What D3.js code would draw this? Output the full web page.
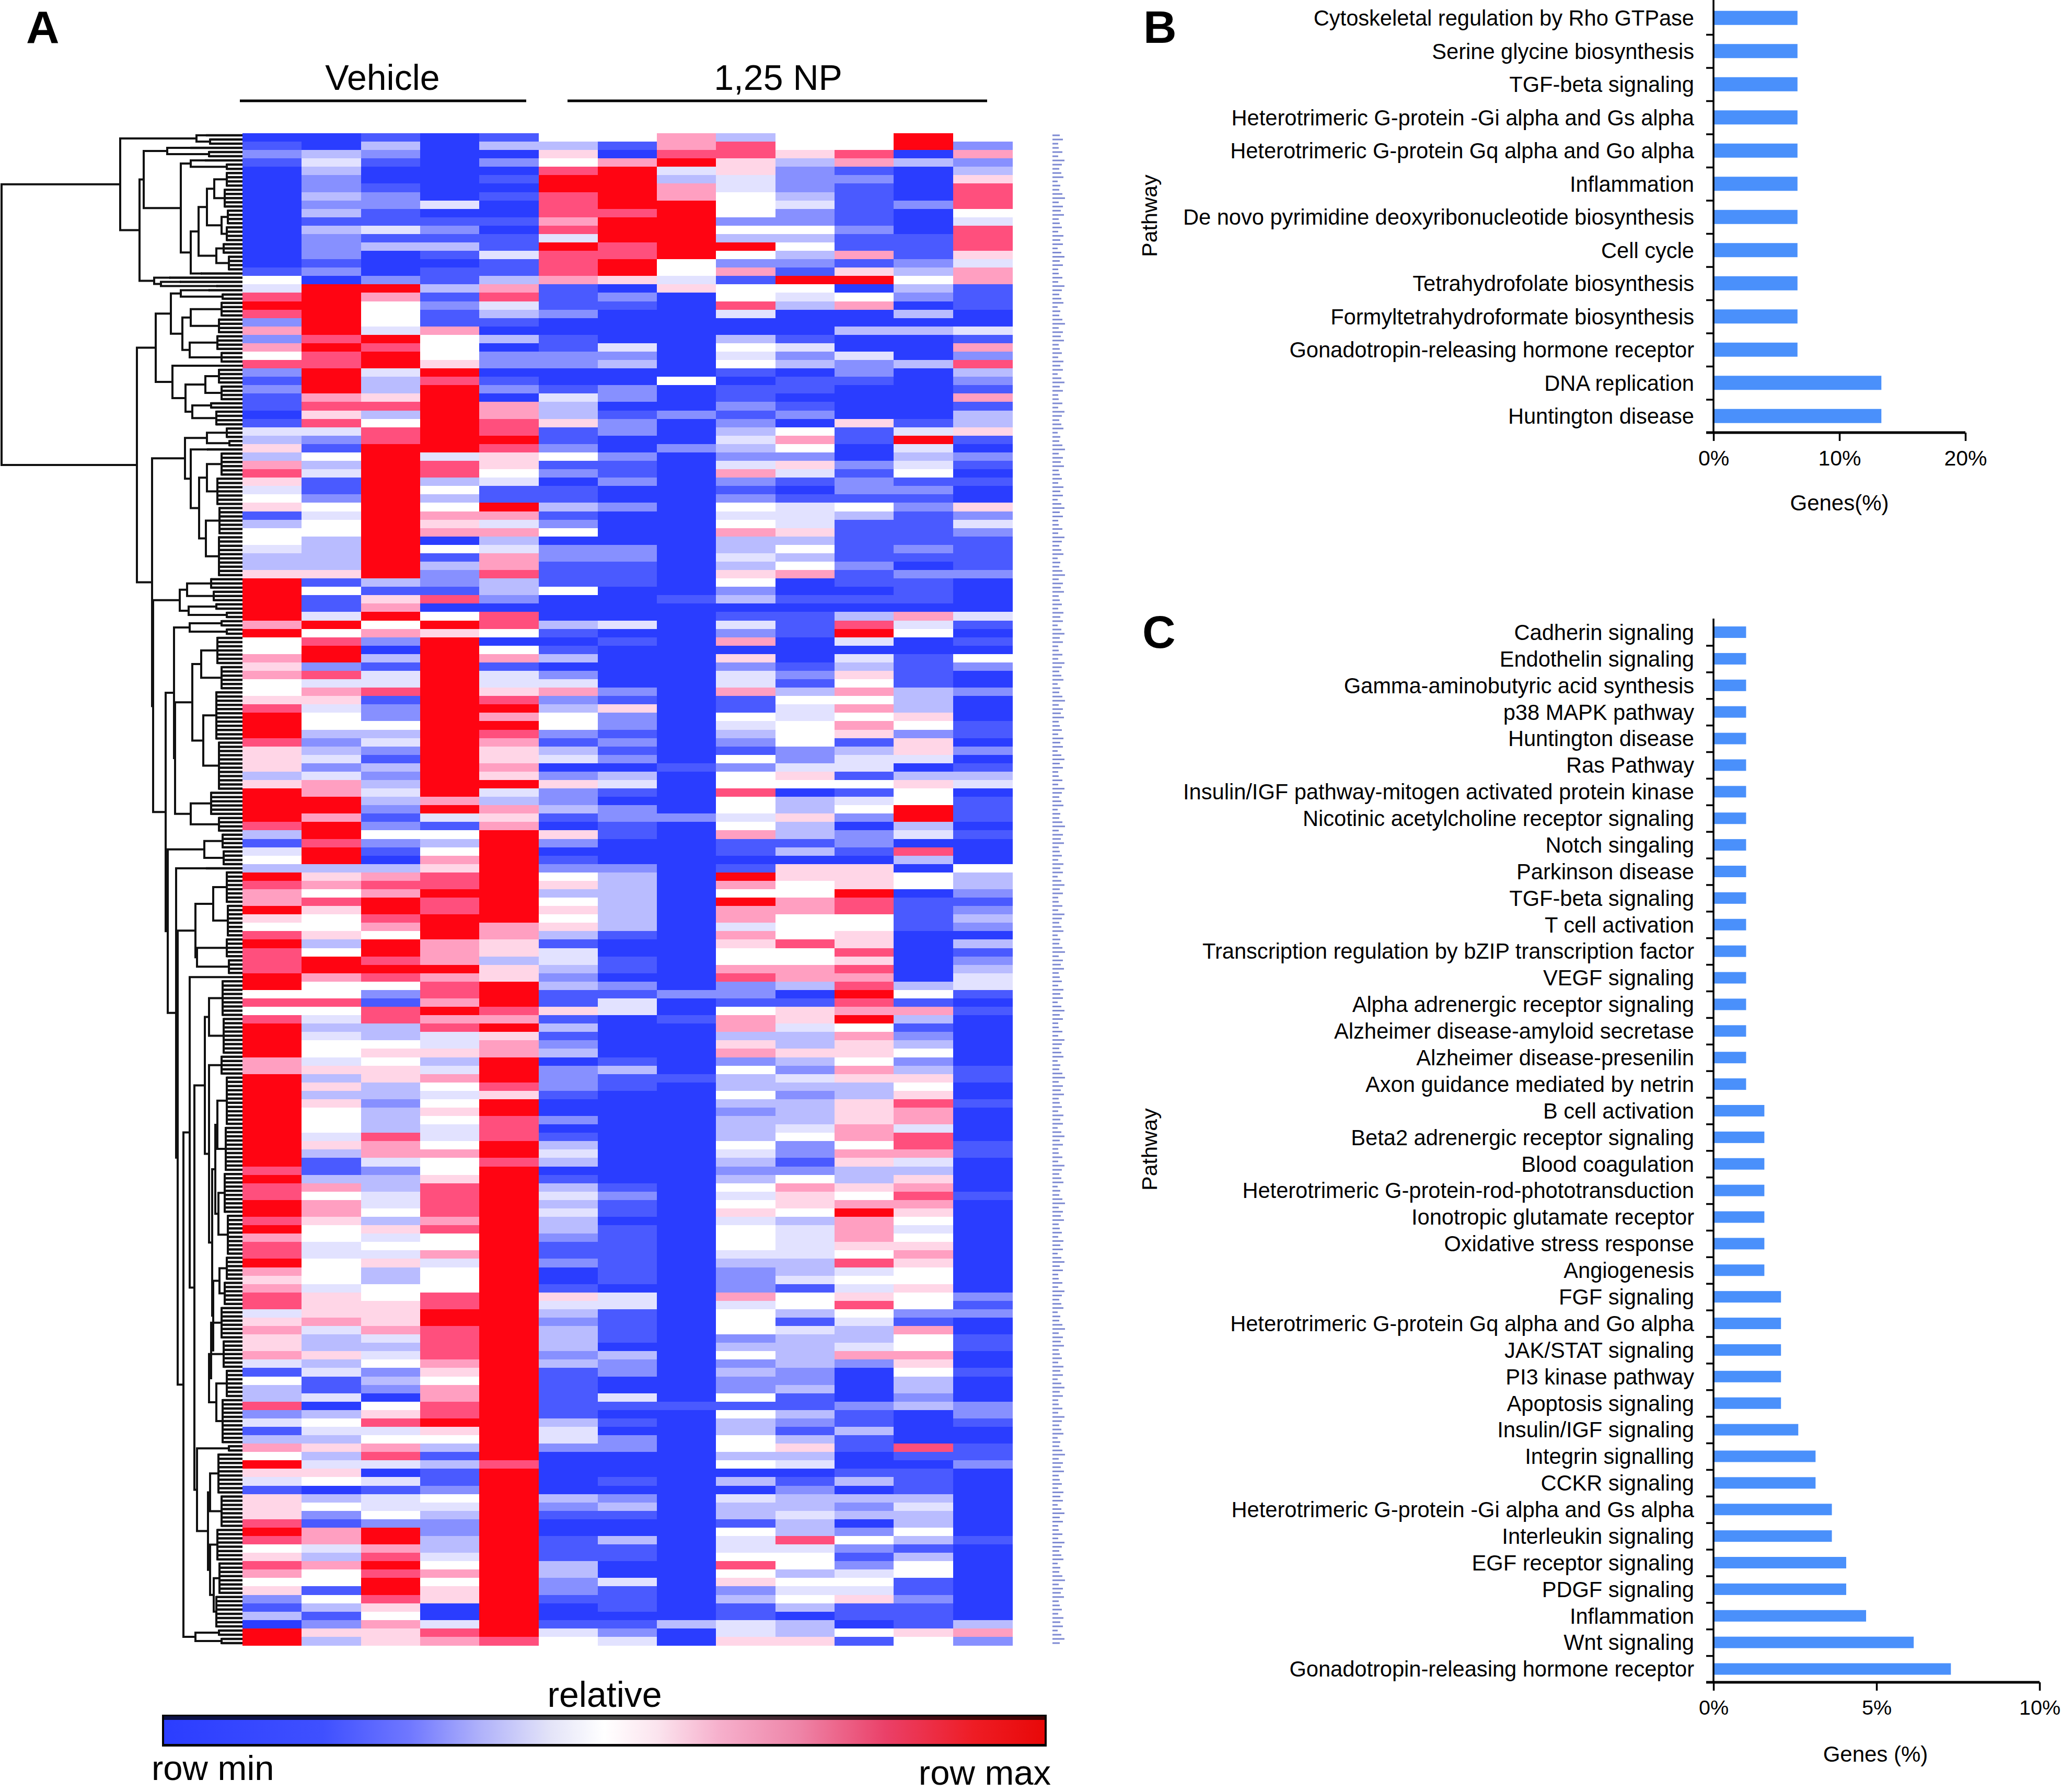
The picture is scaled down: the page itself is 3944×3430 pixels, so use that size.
<!DOCTYPE html>
<html><head><meta charset="utf-8">
<script src="https://cdnjs.cloudflare.com/ajax/libs/d3/7.8.5/d3.min.js"></script>
<style>html,body{margin:0;padding:0;background:#fff}svg{display:block}text{font-family:"Liberation Sans",Arial,sans-serif;fill:#000}</style>
</head><body><svg id="c" width="3944" height="3430"></svg>
<script>
// ---- panel A heatmap: one string of colour levels (0 = row min ... 9 = row max) per column, top to bottom
const col01="012100 000000 000015 489827 275821 211014 363786 456135 543369 999979 557675 568999 866636 999983 145398 779658 988899 585899 997799 999999 999898 899897 889767 884676 674153 382413 759641 666898 568756 213099";
const col02="003432 232313 222120 999999 898899 978684 215341 125455 333361 511495 899284 764553 234247 799799 899367 586556 359975 585434 554636 365554 631137 577655 445554 666743 363411 403543 634650 352177 437551 531263";
const col03="132100 122114 130002 975554 989943 368358 899999 999999 999993 167957 203144 812253 421323 432125 210378 799875 998985 218833 565663 323338 774233 445364 546335 566674 345232 056845 784041 445299 789899 865766";
const col04="000000 004012 131011 312117 555698 999999 994883 535767 051322 180596 999999 999999 999999 979415 357688 988999 777978 879784 463475 456544 575568 888785 574555 889988 887657 788965 313112 543223 345756 600487";
const col05="130201 010010 114113 784310 302201 207788 986654 119747 347783 320885 057144 689798 766769 437679 999999 999977 663669 998796 779998 699888 998999 999999 999999 999999 999999 999999 998999 999999 999999 999998";
const col06="536589 988878 498887 111200 112200 143361 125120 113125 022111 500031 013024 723552 134026 223106 201256 356563 144323 116131 230222 100201 343013 434332 112001 643233 323111 111344 200000 321001 113322 100145";
const col07="510799 999899 988996 021000 042300 220122 002112 002000 022111 000040 100000 216221 212034 102211 000233 333331 001102 144000 001311 000000 000001 211011 111110 441111 032200 410102 200010 231003 110041 110124";
const col08="778943 779999 999554 600000 000005 000200 020000 000000 000000 010000 000000 000000 000100 000200 000000 000000 000000 200100 000010 000000 000000 000000 000000 000000 000000 010000 000000 000000 000000 000300";
const col09="388664 455525 395271 558400 354510 112123 432472 125457 334365 230142 706244 711543 215255 855457 110197 597747 655782 215773 672533 532333 543235 456455 543222 745552 352322 515335 535030 433154 458562 311446";
const col10="556322 234225 353219 543000 142301 101205 752641 014446 353570 010111 000121 354455 522465 033633 130665 577555 855773 016643 363243 233345 221257 665344 443341 553143 333223 113213 634012 334338 455354 530336";
const col11="558712 111112 117169 057003 004221 000061 100212 215311 111211 010389 404365 757576 134415 145202 210666 988556 686878 987957 665763 366677 576336 579777 658454 685433 472000 021131 100130 323025 212454 611051";
const col12="990300 002000 111235 320303 000300 000014 943451 212111 121021 110745 001111 333652 664036 559934 083055 011110 000003 517312 352365 687748 874367 876545 676556 552175 576533 230000 810111 343353 135511 211165";
const col13="527236 888548 886477 111004 172832 171336 102101 006242 111120 000410 105200 200011 020134 011101 000533 212320 312344 101000 000110 010000 110000 100000 000000 212001 100100 022100 112000 000001 000000 000372";
const heatColumns=[col01,col02,col03,col04,col05,col06,col07,col08,col09,col10,col11,col12,col13];
const levelColors=["#2a3dff","#4a5aff","#8790ff","#b9bcff","#e2e2ff","#ffffff","#ffd6e7","#ff9fc1","#ff4f7d","#ff0412"];
const groupLabels=["Vehicle","1,25 NP"];

// ---- panel A dendrogram: [merge distance, child, child] ; a leaf is [merge distance, number of rows]
const dendro=[461,
 [234,
  [88,[70,1],[62,2]],
  [197,
   [189,
    [144,[100,1],[64,2]],
    [118,
     [99,[72,1],[30,2]],
     [99,
      [84,
       [68,[54,[30,4],[34,5]],[40,[28,4],[30,4]]],
       [50,[36,3],[26,4]]],
      [80,1]]]],
   [169,[140,1],[156,[120,1],[50,1]]]]],
 [202,
  [166,
   [137,
    [118,[65,1],[38,2]],
    [115,[99,[40,4],[45,4]],[101,[48,4],[40,3]]]],
   [134,
    [1,1],
    [109,[71,[45,4],[40,4]],[96,[60,2],[50,4]]]]],
  [173,
   [110,
    [68,[30,3],[25,2]],
    [99,
     [68,1],
     [83,[68,[40,6],[48,7]],[70,[44,7],[45,10]]]]],
   [171,
    [120,[106,[60,3],[55,3]],[103,[50,2],[30,2]]],
    [147,
     [131,
      [101,[40,2],[30,2]],
      [129,
       [96,[79,[48,7],[40,6]],[75,[50,12],[45,12]]],
       [99,[60,6],[45,4]]]],
     [143,
      [73,[38,4],[36,4]],
      [127,
       [70,1],
       [124,
        [90,[56,[30,8],[28,8]],[87,[30,5],[26,4]]],
        [113,
         [101,
          [1,1],
          [92,
           [72,
            [64,[38,9],[36,9]],
            [64,
             [40,5],
             [58,
              [52,[48,[30,12],[32,11]],[46,[34,10],[28,10]]],
              [56,
               [44,[30,6],[34,6]],
               [60,[40,8],[64,[36,7],[50,[30,7],[38,11]]]]]]]],
           [87,
            [26,2],
            [66,
             [62,[46,10],[40,8]],
             [62,[48,8],[55,[44,8],[50,8]]]]]]],
         [90,[45,2],[40,2]]]]]]]]]]];
const geneMarkLengths=[14,20,11,12,19,11,23,18,13,17,21,10,15,13,19,24,12,20,16,22,12,14,18,11,21,15,20,10,17,23];

// ---- panel B
const pathwaysB=["Cytoskeletal regulation by Rho GTPase","Serine glycine biosynthesis","TGF-beta signaling","Heterotrimeric G-protein -Gi alpha and Gs alpha","Heterotrimeric G-protein Gq alpha and Go alpha","Inflammation","De novo pyrimidine deoxyribonucleotide biosynthesis","Cell cycle","Tetrahydrofolate biosynthesis","Formyltetrahydroformate biosynthesis","Gonadotropin-releasing hormone receptor","DNA replication","Huntington disease"];
const genesB=[6.67,6.67,6.67,6.67,6.67,6.67,6.67,6.67,6.67,6.67,6.67,13.33,13.33];
const ticksB=[0,10,20];
// ---- panel C
const pathwaysC=["Cadherin signaling","Endothelin signaling","Gamma-aminobutyric acid synthesis","p38 MAPK pathway","Huntington disease","Ras Pathway","Insulin/IGF pathway-mitogen activated protein kinase","Nicotinic acetylcholine receptor signaling","Notch singaling","Parkinson disease","TGF-beta signaling","T cell activation","Transcription regulation by bZIP transcription factor","VEGF signaling","Alpha adrenergic receptor signaling","Alzheimer disease-amyloid secretase","Alzheimer disease-presenilin","Axon guidance mediated by netrin","B cell activation","Beta2 adrenergic receptor signaling","Blood coagulation","Heterotrimeric G-protein-rod-phototransduction","Ionotropic glutamate receptor","Oxidative stress response","Angiogenesis","FGF signaling","Heterotrimeric G-protein Gq alpha and Go alpha","JAK/STAT signaling","PI3 kinase pathway","Apoptosis signaling","Insulin/IGF signaling","Integrin signalling","CCKR signaling","Heterotrimeric G-protein -Gi alpha and Gs alpha","Interleukin signaling","EGF receptor signaling","PDGF signaling","Inflammation","Wnt signaling","Gonadotropin-releasing hormone receptor"];
const genesC=[1.0,1.0,1.0,1.0,1.0,1.0,1.0,1.0,1.0,1.0,1.0,1.0,1.0,1.0,1.0,1.0,1.0,1.0,1.56,1.56,1.56,1.56,1.56,1.56,1.56,2.07,2.07,2.07,2.07,2.07,2.6,3.13,3.13,3.63,3.63,4.07,4.07,4.68,6.14,7.28];
const ticksC=[0,5,10];
// ---- colour key
const keyStops=[[0,"#2b3dff"],[0.18,"#3f50ff"],[0.28,"#7078ff"],[0.36,"#b0b2fa"],[0.44,"#e4e4f8"],[0.5,"#ffffff"],[0.56,"#fbe4ee"],[0.63,"#f6b0cc"],[0.72,"#ee85a8"],[0.82,"#ea4068"],[0.92,"#ee1c24"],[1,"#e80808"]];

const svg=d3.select("#c");
const BAR="#4a90fb";
const heatTop=255,heatBottom=3149,heatLeft=464,heatRight=1937;

// heatmap
const parsed=heatColumns.map(s=>s.replace(/\s/g,"").split("").map(Number));
const nRows=parsed[0].length;
const xH=d3.scaleBand().domain(d3.range(heatColumns.length)).range([heatLeft,heatRight]);
const yH=d3.scaleBand().domain(d3.range(nRows)).range([heatTop,heatBottom]);
const cScale=d3.scaleLinear().domain(d3.range(10)).range(levelColors);
const heat=svg.append("g").attr("shape-rendering","crispEdges");
parsed.forEach((col,ci)=>{
  heat.selectAll(null).data(col).join("rect")
    .attr("x",xH(ci)).attr("width",xH.bandwidth()+.5)
    .attr("y",(d,i)=>yH(i)).attr("height",yH.bandwidth()+.5)
    .attr("fill",d=>cScale(d));
});

// dendrogram
const isLeaf=n=>typeof n[1]==="number";
const rootD=d3.hierarchy(dendro,n=>isLeaf(n)?null:n.slice(1));
let totalUnits=0;rootD.leaves().forEach(l=>{l.start=totalUnits;totalUnits+=l.data[1];});
const xD=d3.scaleLinear().domain([0,461]).range([heatLeft,3]);
const yD=d3.scaleLinear().domain([0,totalUnits]).range([heatTop,heatBottom]);
rootD.eachAfter(n=>{
  if(n.children){n.y0=n.children[0].y0;n.yp=(n.children[0].yp+n.children[n.children.length-1].yp)/2;}
  else{n.yp=yD(n.start+n.data[1]/2);}
});
let dPath="",dComb="";
rootD.each(n=>{
  const x=xD(n.data[0]);
  if(n.parent){dPath+=`M${xD(n.parent.data[0])},${n.yp}H${x}`;}
  if(n.children){
    dPath+=`M${x},${n.children[0].yp}V${n.children[n.children.length-1].yp}`;
  }else{
    const cnt=n.data[1];
    const ys=d3.range(cnt).map(i=>yD(n.start+i+.5));
    if(cnt>1)dPath+=`M${x},${ys[0]}V${ys[ys.length-1]}`;
    ys.forEach(y=>{dComb+=`M${x},${y}H${heatLeft}`;});
  }
});
svg.append("path").attr("d",dPath).attr("fill","none").attr("stroke","#111").attr("stroke-width",4).attr("stroke-linecap","square");
svg.append("path").attr("d",dComb).attr("fill","none").attr("stroke","#111").attr("stroke-width",4.5);

// gene label column (illegible at this size)
const markY=d3.scaleLinear().domain([0,totalUnits]).range([heatTop,heatBottom]);
svg.append("g").attr("opacity",.8).selectAll("rect").data(d3.range(totalUnits)).join("rect")
  .attr("x",2014).attr("y",d=>markY(d+.5)-1.5).attr("height",3)
  .attr("width",d=>geneMarkLengths[d%geneMarkLengths.length])
  .attr("fill","#5d6cc8");

// headers
const groupPos=[[459,1007],[1086,1889]];
groupLabels.forEach((t,i)=>{
  const [a,b]=groupPos[i];
  svg.append("text").attr("x",i?1489:732).attr("y",172).attr("text-anchor","middle").attr("font-size",68).text(t);
  svg.append("line").attr("x1",a).attr("x2",b).attr("y1",193).attr("y2",193).attr("stroke","#000").attr("stroke-width",5);
});

// panel letters
[["A",50,82],["B",2188,82],["C",2186,1240]].forEach(([t,x,y])=>{
  svg.append("text").attr("x",x).attr("y",y).attr("font-size",88).attr("font-weight","bold").text(t);
});

// colour key
const defs=svg.append("defs");
const grad=defs.append("linearGradient").attr("id","key");
grad.selectAll("stop").data(keyStops).join("stop").attr("offset",d=>d[0]).attr("stop-color",d=>d[1]);
svg.append("rect").attr("x",310).attr("y",3282).attr("width",1693).attr("height",61).attr("fill","#050505");
svg.append("rect").attr("x",314).attr("y",3285).attr("width",1685).attr("height",53).attr("fill","url(#key)");
svg.append("rect").attr("x",314).attr("y",3285).attr("width",1685).attr("height",7).attr("fill","#000").attr("opacity",.72);
svg.append("text").attr("x",1157).attr("y",3267).attr("text-anchor","middle").attr("font-size",68).text("relative");
svg.append("text").attr("x",290).attr("y",3407).attr("font-size",67).text("row min");
svg.append("text").attr("x",2011).attr("y",3416).attr("text-anchor","end").attr("font-size",67).text("row max");

// bar charts
function barChart(cats,vals,ticks,cfg){
  const g=svg.append("g");
  const y=d3.scaleBand().domain(cats).range([cfg.top,cfg.bottom]);
  const x=d3.scaleLinear().domain([0,ticks[ticks.length-1]]).range([3279,cfg.xMax]);
  g.selectAll("rect").data(cats).join("rect")
    .attr("x",x(0)).attr("y",d=>y(d)+y.bandwidth()/2-cfg.barH/2)
    .attr("height",cfg.barH).attr("width",(d,i)=>x(vals[i])-x(0)).attr("fill",BAR);
  // category labels
  const yAxis=d3.axisLeft(y).tickSize(0).tickPadding(37);
  const ga=g.append("g").attr("transform","translate(3279,1.5)").call(yAxis);
  ga.select(".domain").remove();
  ga.selectAll("text").attr("font-size",cfg.fs).attr("font-family",'"Liberation Sans"').attr("fill","#000").attr("dy","0.32em");
  // boundary ticks
  const idx=d3.scaleLinear().domain([0,cats.length]).range([cfg.top,cfg.bottom]);
  const yb=d3.axisLeft(idx).tickValues(d3.range(cfg.firstTick,cats.length)).tickFormat("").tickSize(14).tickSizeOuter(0);
  const gb=g.append("g").attr("transform","translate(3279,0)").call(yb);
  gb.select(".domain").attr("d",`M0,${cfg.axisTop}V${cfg.bottom}`);
  gb.selectAll("line,path").attr("stroke","#000").attr("stroke-width",cfg.yw);
  // x axis
  const xa=d3.axisBottom(x).tickValues(ticks).tickFormat(d=>d+"%").tickSize(16).tickSizeOuter(0).tickPadding(18);
  const gx=g.append("g").attr("transform",`translate(0,${cfg.bottom})`).call(xa);
  gx.select(".domain").attr("stroke","#000").attr("stroke-width",5).attr("d",`M${3279-14},0H${cfg.xMax}`);
  gx.selectAll("line").attr("stroke","#000").attr("stroke-width",3.5);
  gx.selectAll("text").attr("font-size",cfg.tickFs).attr("font-family",'"Liberation Sans"').attr("fill","#000");
  svg.append("text").attr("x",cfg.titleX).attr("y",cfg.titleY).attr("text-anchor","middle").attr("font-size",42).text(cfg.title);
  svg.append("text").attr("transform",`translate(2214,${cfg.pathY}) rotate(-90)`).attr("text-anchor","middle").attr("font-size",41).text("Pathway");
}
barChart(pathwaysB,genesB,ticksB,{top:2.5,bottom:828,xMax:3761,barH:27,fs:41.6,tickFs:41,firstTick:1,axisTop:0,yw:3.5,titleX:3520,titleY:977,title:"Genes(%)",pathY:413});
barChart(pathwaysC,genesC,ticksC,{top:1184.6,bottom:3220,xMax:3903,barH:22,fs:41.6,tickFs:39.5,firstTick:1,axisTop:1184,yw:3.5,titleX:3589,titleY:3372,title:"Genes (%)",pathY:2200});
</script></body></html>
